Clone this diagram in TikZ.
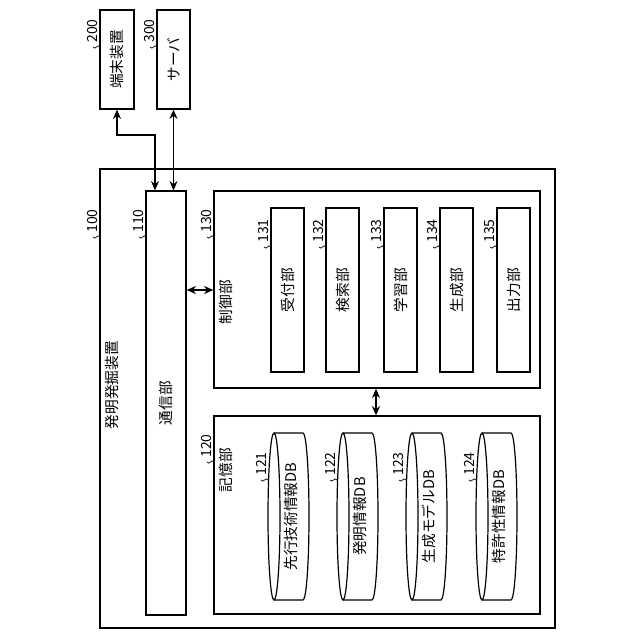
\documentclass[tikz,border=0pt]{standalone}
\usepackage{fontspec}
\setmainfont{Noto Sans CJK JP}
\usetikzlibrary{fit,arrows.meta}
\begin{document}
\begin{tikzpicture}[x=0.75pt,y=-0.75pt,
  box/.style={draw,line width=0.9pt,inner sep=0pt},
  lab/.style={rotate=90,inner sep=0pt,font=\fontsize{11}{13}\selectfont},
  num/.style={rotate=90,inner sep=0pt,anchor=west,font=\fontsize{10.5}{12}\selectfont},
  arr/.style={line width=1pt,{Stealth[length=7pt,width=6pt]}-{Stealth[length=7pt,width=6pt]}},
  sq/.style={line width=0.5pt}]
\useasboundingbox (0,0) rectangle (640,640);
\newcommand{\refl}[3]{%
  \draw[sq] (#1,#2) .. controls (#1-3,#2-4) and (#1-4,#2+4) .. (#1-7,#2);
  \node[num] at (#1-7,#2-4) {#3};}
% external devices
\node[box,fit={(100,10)(134,109)}] (t200) {};
\node[lab] (t200l) at (t200.center) {端末装置};
\node[box,fit={(157,10)(190,109)}] (s300) {};
\node[lab] (s300l) at (s300.center) {サーバ};
\refl{100}{47}{200}
\refl{157}{47}{300}
% main device
\node[box,fit={(100,169)(555,628)}] (d100) {};
\node[lab] (d100l) at (112,385) {発明発掘装置};
\refl{100}{237}{100}
\node[box,fit={(146,191)(186,615)}] (c110) {};
\node[lab] (c110l) at (c110.center) {通信部};
\refl{146}{237}{110}
\node[box,fit={(214,191)(540,388)}] (c130) {};
\node[lab] (c130l) at (226,302) {制御部};
\refl{214}{237}{130}
\node[box,fit={(214,416)(540,614)}] (c120) {};
\node[lab] (c120l) at (226,470) {記憶部};
\refl{214}{462}{120}
% sub units
\foreach \n/\x/\t in {131/271/受付部,132/326/検索部,133/384/学習部,134/440/生成部,135/497/出力部}{
  \node[box,fit={(\x,208)(\x+33,372)}] (u\n) {};
  \node[lab] (u\n l) at (u\n.center) {\t};
  \refl{\x}{247}{\n}
}
% cylinders
\foreach \n/\x/\t in {121/268/先行技術情報DB,122/337/発明情報DB,123/406/生成モデルDB,124/476/特許性情報DB}{
  \node[fit={(\x,433)(\x+41,600)},inner sep=0pt] (db\n) {};
  \draw[line width=0.9pt] (\x+6,433) -- (\x+35,433) arc[start angle=-90,end angle=90,x radius=6,y radius=83.5] -- (\x+6,600);
  \draw[line width=0.9pt] (\x+6,516.5) ellipse[x radius=6,y radius=83.5];
  \node[lab] (db\n l) at (\x+23,516.5) {\t};
  \refl{\x}{480}{\n}
}
% connectors
\coordinate (j1) at (155,135);
\draw[arr] (t200.south) |- (j1) -- (j1 |- c110.north);
\draw[arr] (s300.south) -- (s300.south |- c110.north);
\coordinate (h) at (200,290);
\draw[arr] (h -| c110.east) -- (h -| c130.west);
\coordinate (v) at (376,400);
\draw[arr] (v |- c130.south) -- (v |- c120.north);
\end{tikzpicture}
\end{document}
